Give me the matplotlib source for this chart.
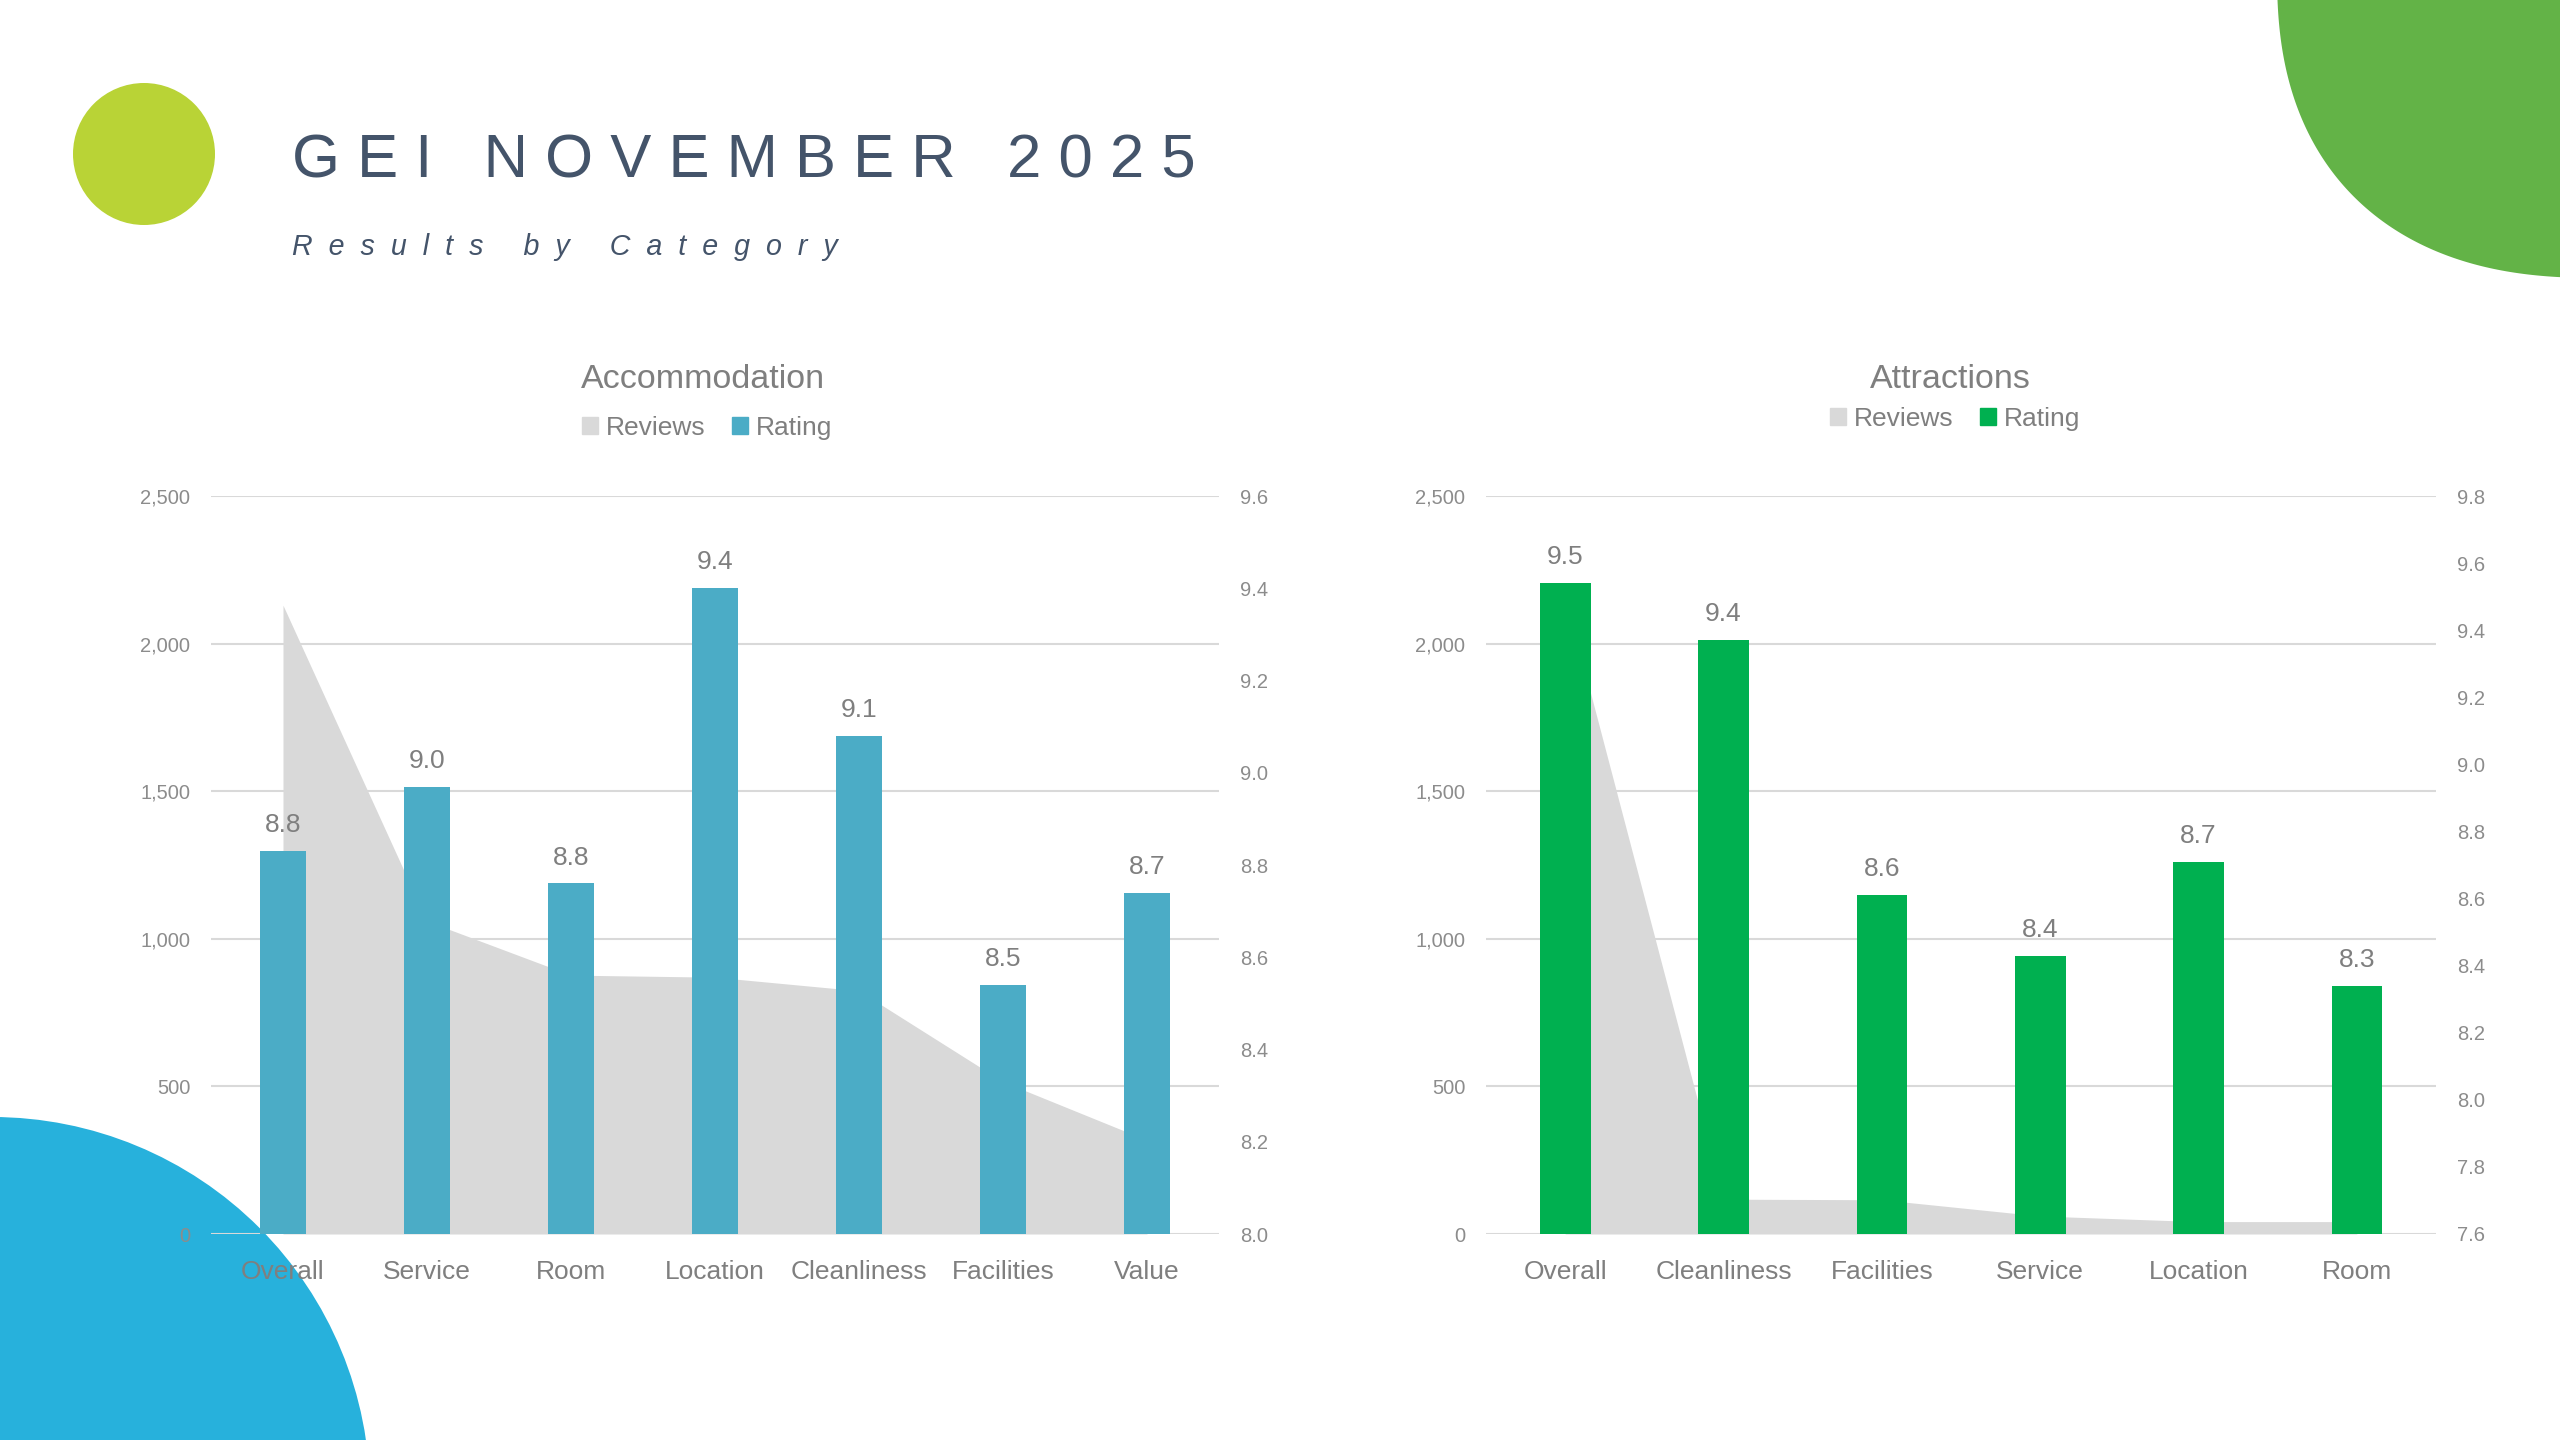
import matplotlib.pyplot as plt
import numpy as np
from matplotlib.patches import Circle, Polygon, Patch

plt.rcParams['font.family'] = ['Liberation Sans', 'DejaVu Sans']

# accommodation panel
acc_categories = ['Overall', 'Service', 'Room', 'Location', 'Cleanliness', 'Facilities', 'Value']
acc_reviews = [2130, 1060, 877, 870, 824, 516, 318]
acc_rating = [8.83, 8.97, 8.76, 9.40, 9.08, 8.54, 8.74]

# attractions panel
att_categories = ['Overall', 'Cleanliness', 'Facilities', 'Service', 'Location', 'Room']
att_reviews = [2160, 118, 116, 61, 42, 42]
att_rating = [9.54, 9.37, 8.61, 8.43, 8.71, 8.34]

W, H = 2560, 1440
GRAY = '#D9D9D9'
TXT = '#7F7F7F'

fig = plt.figure(figsize=(W / 100, H / 100), dpi=100)

# background decoration, pixel coords with y down
bg = fig.add_axes([0, 0, 1, 1])
bg.set_xlim(0, W)
bg.set_ylim(H, 0)
bg.axis('off')
bg.add_patch(Circle((144, 154), 71, color='#B9D336', lw=0))
bg.add_patch(Circle((-8, 1495), 378, color='#27B1DC', lw=0))
t = np.linspace(0, 2 * np.pi, 500)
n = 2.4
ex = np.sign(np.cos(t)) * np.abs(np.cos(t)) ** (2 / n)
ey = np.sign(np.sin(t)) * np.abs(np.sin(t)) ** (2 / n)
bg.add_patch(Polygon(np.column_stack([2600 + 323 * ex, -30 + 308 * ey]),
                     color='#63B347', lw=0))

fig.text(292 / W, 1 - 177 / H, 'G E I   N O V E M B E R   2 0 2 5',
         fontsize=44.4, color='#44546A', va='baseline')
fig.text(292 / W, 1 - 255 / H,
         'R  e  s  u  l  t  s     b  y     C  a  t  e  g  o  r  y',
         fontsize=20.6, style='italic', color='#44546A', va='baseline')


def panel(left, right, cats, reviews, rating, color, rmin, rmax,
          title, title_x, leg_x, leg_y):
    top, bottom = 496, 1234
    ax = fig.add_axes([left / W, 1 - bottom / H, (right - left) / W,
                       (bottom - top) / H])
    ax.patch.set_alpha(0)
    x = np.arange(len(cats))
    ax.fill_between(x, reviews, color=GRAY, lw=0, zorder=2)
    ax.set_ylim(0, 2500)
    ax.set_yticks(range(0, 2501, 500))
    ax.yaxis.set_major_formatter(lambda v, p: f'{v:,.0f}')
    ax.grid(axis='y', color=GRAY, lw=1.5)
    ax.set_axisbelow(True)
    ax.set_xlim(-0.5, len(cats) - 0.5)
    ax.set_xticks(x, cats)

    ax2 = ax.twinx()
    bars = ax2.bar(x, rating, width=0.32, color=color, zorder=3)
    ax2.set_ylim(rmin, rmax)
    ax2.set_yticks(np.arange(rmin, rmax + 0.01, 0.2))
    ax2.yaxis.set_major_formatter(lambda v, p: f'{v:.1f}')
    ax2.bar_label(bars, labels=[f'{v:.1f}' for v in rating], padding=10,
                  fontsize=19, color=TXT)

    for a in (ax, ax2):
        for s in a.spines.values():
            s.set_visible(False)
        a.tick_params(length=0, labelsize=14.5, labelcolor='#8C8C8C', pad=15)
    ax.tick_params(axis='x', labelsize=19, labelcolor=TXT, pad=18.5)

    fig.text(title_x / W, 1 - 388 / H, title, ha='center', va='baseline',
             fontsize=24.5, color=TXT)
    handles = [Patch(color=GRAY, label='Reviews'), Patch(color=color, label='Rating')]
    fig.legend(handles=handles, loc='center', bbox_to_anchor=(leg_x / W, 1 - leg_y / H),
               ncol=2, frameon=False, fontsize=19, labelcolor=TXT,
               handlelength=0.6, handleheight=0.6, handletextpad=0.3,
               columnspacing=1.0)


panel(211, 1219, acc_categories, acc_reviews, acc_rating, '#4BACC6', 8.0, 9.6,
      'Accommodation', 703, 707, 428)
panel(1486, 2436, att_categories, att_reviews, att_rating, '#00B050', 7.6, 9.8,
      'Attractions', 1950, 1955, 419)

fig.savefig('out.png', dpi=100)
